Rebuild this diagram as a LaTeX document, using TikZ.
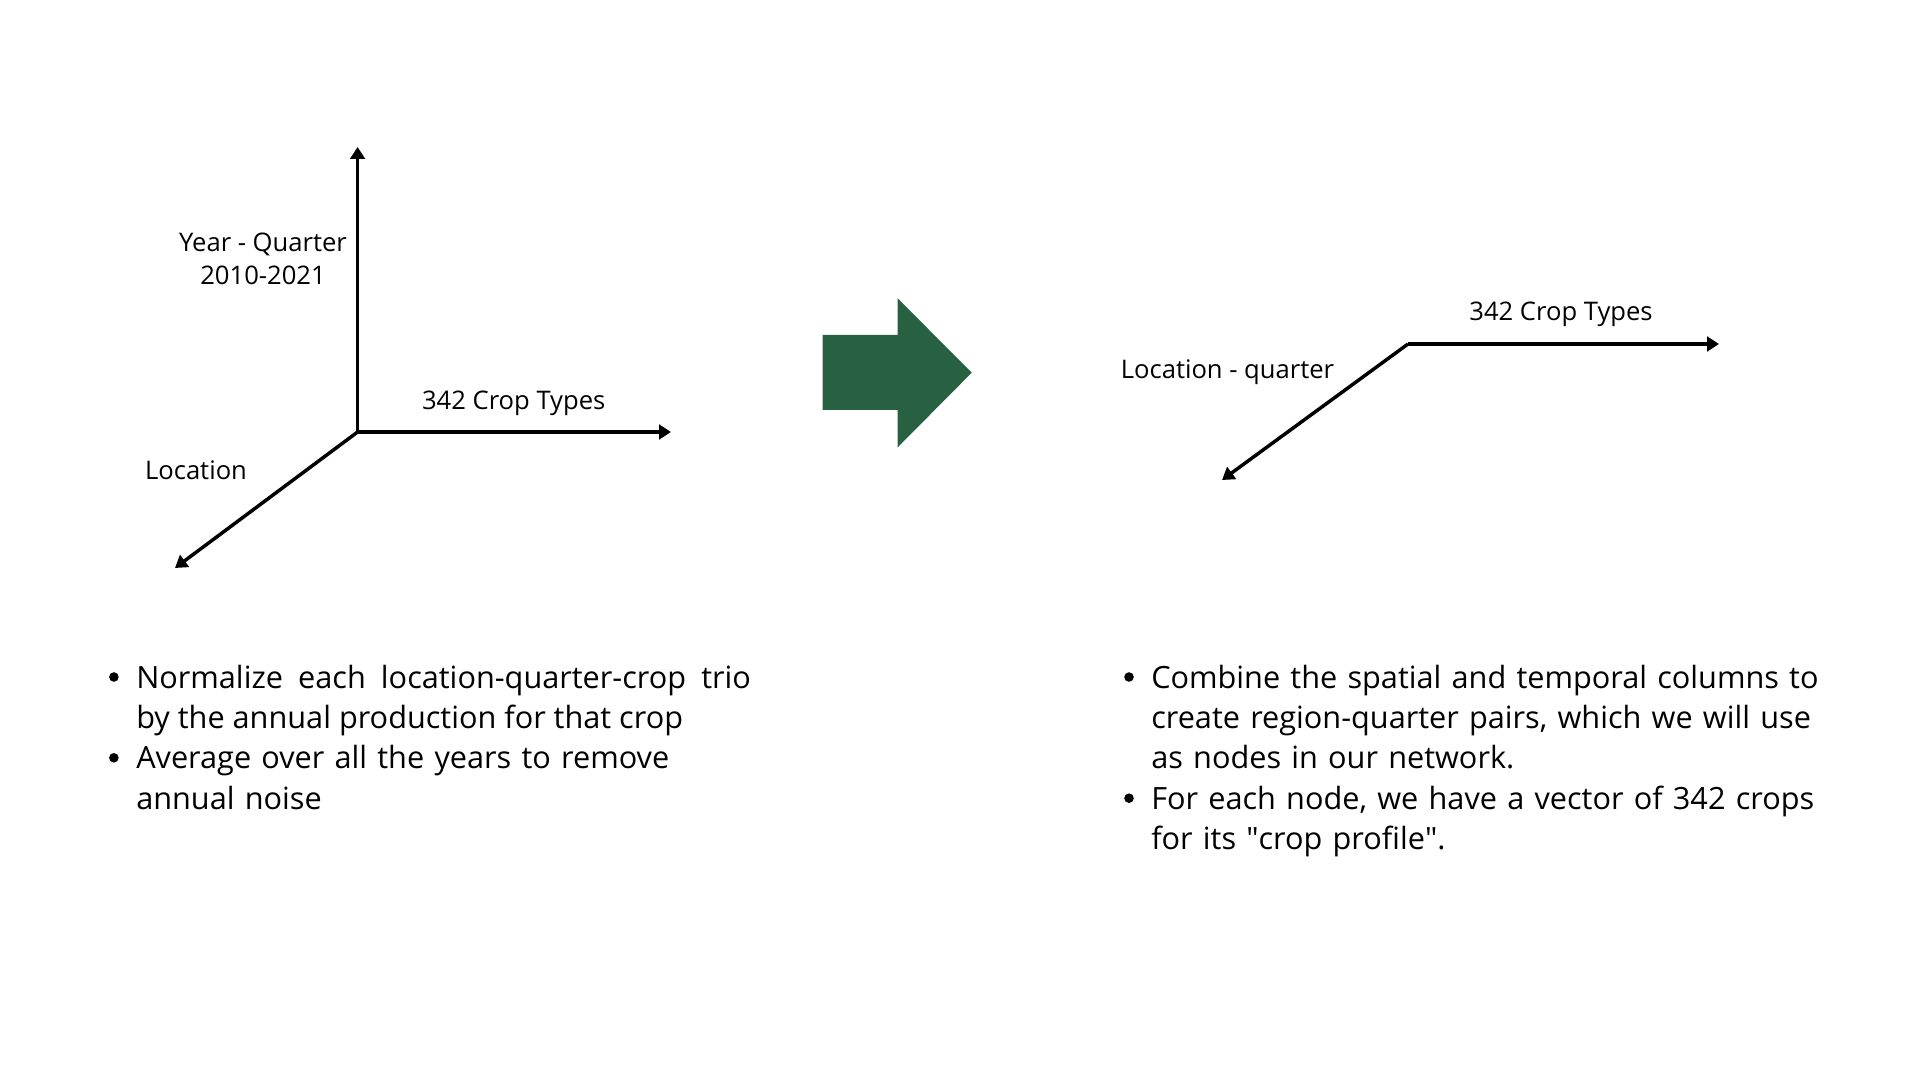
\documentclass[tikz,border=0pt]{standalone}
\usepackage{fontspec}
\setmainfont{Open Sans}
\usepackage{xcolor}
\usetikzlibrary{arrows.meta}
\definecolor{arrowgreen}{RGB}{39,97,65}

\begin{document}
\begin{tikzpicture}[
    x=0.75pt, y=-0.75pt,
    axis/.style={line width=2.6pt, -{Triangle[length=9pt, width=11pt]}},
    axislabel/.style={font=\fontsize{19.2}{25}\selectfont, align=center, inner sep=0pt},
    dot/.style={circle, fill=black, inner sep=0pt, minimum size=7.2pt},
    bullettext/.style={anchor=base west, inner sep=0pt, font=\fontsize{23}{30.3}\selectfont}
]
\useasboundingbox (0,0) rectangle (1920,1080);

% Left: three axes
\coordinate (origin) at (357.6,432);
\coordinate (yeartip) at (357.6,147);
\coordinate (croptip) at (671,432);
\coordinate (loctip) at (175,568);
\draw[axis] (origin) -- (yeartip);
\draw[axis] (origin) -- (croptip);
\draw[axis] (origin) -- (loctip);
\node[axislabel] (yearlabel) at (263,259) {Year - Quarter\\2010-2021};
\node[axislabel] (croplabel) at (513.7,403) {342 Crop Types};
\node[axislabel] (loclabel) at (196,470) {Location};

% Middle: green arrow
\fill[arrowgreen] (822.7,335) -- (897.7,335) -- (897.7,298.3) -- (971.7,372.7)
    -- (897.7,447.3) -- (897.7,410) -- (822.7,410) -- cycle;

% Right: two axes
\coordinate (neworigin) at (1408,344);
\coordinate (newcroptip) at (1719,344);
\coordinate (newloctip) at (1222,480);
\draw[axis] (neworigin) -- (newcroptip);
\draw[axis] (neworigin) -- (newloctip);
\node[axislabel] (newcroplabel) at (1561,314.7) {342 Crop Types};
\node[axislabel] (newloclabel) at (1227.5,372) {Location - quarter};

% Bullet lists
\node[dot] (dotnorm) at (113.9,677) {};
\node[dot] (dotavg) at (113.9,757.8) {};
\node[dot] (dotcomb) at (1129,677) {};
\node[dot] (dotvec) at (1129,798.2) {};

\node[bullettext, text width=461pt, align=justify] (normtext) at (136,688)
    {Normalize each location-quarter-crop trio\linebreak by the annual production for that crop};
\node[bullettext, text width=461pt, align=left] (avgtext) at (136,768.8)
    {Average over all the years to remove\newline annual noise};
\node[bullettext, text width=540pt, align=left] (combtext) at (1151,688)
    {Combine the spatial and temporal columns to\newline create region-quarter pairs, which we will use\newline as nodes in our network.};
\node[bullettext, text width=540pt, align=left] (vectext) at (1151,809.2)
    {For each node, we have a vector of 342 crops\newline for its \textquotedbl crop profile\textquotedbl.};

\end{tikzpicture}
\end{document}
